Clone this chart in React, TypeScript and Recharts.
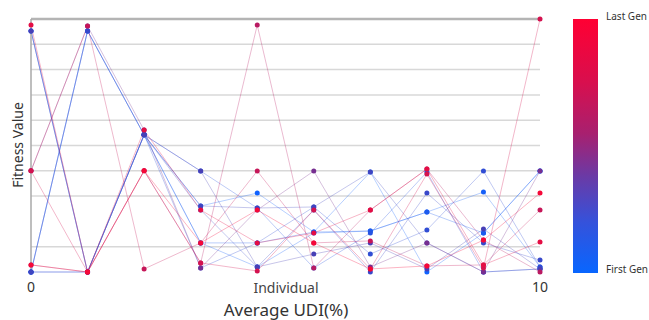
import React from "react";
import {
  LineChart,
  Line,
  XAxis,
  YAxis,
  ReferenceLine,
} from "recharts";

// individuals along the x axis, only the ends are labelled
const individuals = [0, 1, 2, 3, 4, 5, 6, 7, 8, 9];
const xTickLabels = ["0", "", "", "", "", "", "", "", "", "10"];
const yGridTicks = [1, 3, 4, 5, 6, 7, 8, 9];

// fitness value of each individual, one array per generation
const gen1 = [9.53, 0, 5.42, 2.61, 3.12, 1.58, 3.95, 0, 1.54, 3.99];
const gen2 = [0, 9.53, 5.42, 1.15, 0.2, 1.54, 1.62, 2.37, 3.16, 0.2];
const gen3 = [0, 0, 5.42, 1.15, 1.15, 1.58, 1.62, 2.37, 1.54, 3.99];
const gen4 = [0, 9.53, 5.42, 3.99, 2.53, 0.16, 1.54, 3.95, 0, 0.12];
const gen5 = [9.53, 0, 5.42, 0.16, 1.15, 2.57, 0.71, 1.66, 3.99, 0.2];
const gen6 = [0, 9.53, 5.42, 2.45, 0.2, 2.45, 0, 3.12, 1.15, 0.47];
const gen7 = [0, 0, 5.42, 2.61, 2.53, 2.57, 3.95, 1.15, 0, 0.12];
const gen8 = [9.53, 0, 5.42, 3.99, 0.2, 0.71, 1.15, 0.12, 1.7, 0.12];
const gen9 = [4.0, 9.72, 5.61, 0.16, 2.45, 3.99, 0.2, 1.15, 0, 3.99];
const gen10 = [0.28, 0, 4.0, 0.36, 9.76, 0.16, 2.45, 4.07, 1.26, 0];
const gen11 = [4.0, 9.72, 0.12, 1.15, 3.99, 1.15, 1.23, 0.24, 0.28, 2.45];
const gen12 = [4.0, 0, 4.0, 0.36, 0.04, 2.45, 0.12, 3.87, 0.16, 10];
const gen13 = [9.76, 0, 5.61, 2.45, 1.15, 1.54, 2.45, 4.07, 0.28, 1.19];
const gen14 = [0.28, 0, 4.0, 1.15, 2.45, 1.15, 0.12, 0.24, 1.26, 3.12];

const generations = [gen1, gen2, gen3, gen4, gen5, gen6, gen7, gen8, gen9, gen10, gen11, gen12, gen13, gen14];
// position of each generation between first (0) and last (1)
const genProgress = [0, 0.04, 0.1, 0.18, 0.26, 0.32, 0.38, 0.44, 0.62, 0.82, 0.86, 0.9, 0.95, 1];

const data = individuals.map((ind, i) => {
  const row: Record<string, number> = { ind };
  generations.forEach((g, k) => {
    row[`g${k}`] = g[i];
  });
  return row;
});

const BLUE = [16, 98, 255];
const PURPLE = [78, 58, 172];
const RED = [245, 8, 56];

function genColor(t: number) {
  const [a, b, f] = t < 0.5 ? [BLUE, PURPLE, t / 0.5] : [PURPLE, RED, (t - 0.5) / 0.5];
  const c = a.map((v, i) => Math.round(v + (b[i] - v) * f));
  return `rgb(${c[0]},${c[1]},${c[2]})`;
}

const font = "'Noto Sans', 'Open Sans', sans-serif";

export default function App() {
  return (
    <div style={{ position: "absolute", left: 0, top: 0, width: 649, height: 320, background: "#fff", fontFamily: font }}>
      <LineChart width={649} height={320} data={data} margin={{ top: 19, right: 109, left: 0, bottom: 0 }}>
        <XAxis
          dataKey="ind"
          type="number"
          domain={[0, 9]}
          ticks={[0, 9]}
          tickFormatter={(v: number) => xTickLabels[v]}
          axisLine={false}
          tickLine={false}
          height={48}
          tickMargin={4}
          tick={{ fill: "#333", fontSize: 14, fontFamily: font }}
        />
        <YAxis
          type="number"
          domain={[0, 10]}
          ticks={yGridTicks}
          tick={false}
          tickLine={false}
          width={31}
          axisLine={{ stroke: "#a8a8a8", strokeWidth: 1.5 }}
        />
        {yGridTicks.map((v) => (
          <ReferenceLine key={v} y={v} stroke="#d8d8d8" strokeWidth={1.5} />
        ))}
        <ReferenceLine y={10} stroke="#b4b4b4" strokeWidth={2.5} />
        {generations.map((_, k) => {
          const color = genColor(genProgress[k]);
          return (
            <Line
              key={k}
              dataKey={`g${k}`}
              type="linear"
              stroke={color}
              strokeOpacity={0.3}
              strokeWidth={1}
              dot={{ r: 2.5, fill: color, stroke: "none", fillOpacity: 1 }}
              activeDot={false}
              isAnimationActive={false}
            />
          );
        })}
      </LineChart>

      <div
        style={{
          position: "absolute",
          left: 17,
          top: 145,
          transform: "translate(-50%, -50%) rotate(-90deg)",
          fontSize: 14,
          color: "#333",
          whiteSpace: "nowrap",
        }}
      >
        Fitness Value
      </div>
      <div style={{ position: "absolute", left: 286, top: 287, transform: "translate(-50%, -50%)", fontSize: 14, color: "#444" }}>
        Individual
      </div>
      <div
        style={{ position: "absolute", left: 286, top: 309, transform: "translate(-50%, -50%)", fontSize: 17, color: "#333", whiteSpace: "nowrap" }}
      >
        Average UDI(%)
      </div>

      <div
        style={{
          position: "absolute",
          left: 573,
          top: 19,
          width: 25,
          height: 254,
          background: "linear-gradient(to bottom, #ff0033 0%, #d80f4e 25%, #a8206f 45%, #6a3aa6 62%, #3552db 80%, #0866ff 100%)",
        }}
      />
      <div style={{ position: "absolute", left: 606, top: 16, transform: "translateY(-50%)", fontSize: 10, color: "#333", whiteSpace: "nowrap" }}>
        Last Gen
      </div>
      <div style={{ position: "absolute", left: 606, top: 269, transform: "translateY(-50%)", fontSize: 10, color: "#333", whiteSpace: "nowrap" }}>
        First Gen
      </div>
    </div>
  );
}
